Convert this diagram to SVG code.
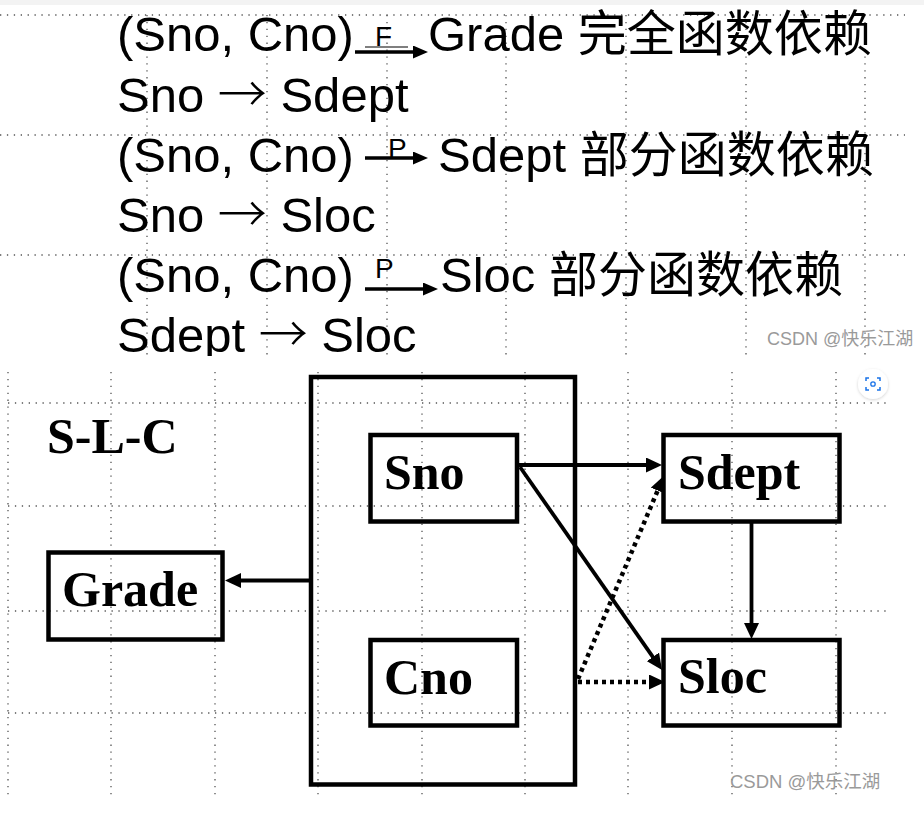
<svg xmlns="http://www.w3.org/2000/svg" width="924" height="824" viewBox="0 0 924 824">
<style>
.grid{stroke:#555;stroke-width:1.3;stroke-dasharray:1.3 5.6;fill:none}
.tx{font-family:"Liberation Sans","Noto Sans CJK SC",sans-serif;font-size:49px;fill:#000}
.ar{font-family:"Noto Sans CJK SC",sans-serif;font-weight:300}
.lbl{font-family:"Liberation Sans",sans-serif;font-size:28px;fill:#000}
.bx{fill:none;stroke:#000;stroke-width:4.5}
.nt{font-family:"Liberation Serif","Times New Roman",serif;font-weight:bold;font-size:50px;fill:#000}
.wm{font-family:"Liberation Sans","Noto Sans CJK SC",sans-serif;font-size:18px;fill:#9a9a9a}
.ln{stroke:#000;stroke-width:3.8;fill:none}
.dt{stroke:#000;stroke-width:4.5;fill:none;stroke-dasharray:4 4}
.sl{stroke:#000;stroke-width:3.6;fill:none}
</style>
<defs>
<marker id="ah" markerUnits="userSpaceOnUse" markerWidth="17" markerHeight="15" refX="6" refY="7.5" orient="auto"><path d="M0,0 L16,7.5 L0,15 z" fill="#000"/></marker>
<marker id="sa" markerUnits="userSpaceOnUse" markerWidth="15" markerHeight="13" refX="5" refY="6.5" orient="auto"><path d="M0,0 L15,6.5 L0,13 z" fill="#000"/></marker>
<clipPath id="top"><rect x="0" y="0" width="924" height="356"/></clipPath>
<filter id="sh" x="-50%" y="-50%" width="200%" height="200%"><feDropShadow dx="0" dy="1" stdDeviation="1.5" flood-color="#000" flood-opacity="0.18"/></filter>
</defs>
<rect width="924" height="824" fill="#fff"/>
<rect x="0" y="0" width="924" height="5" fill="#f3f3f3"/>

<g id="top-section" clip-path="url(#top)">
<g id="top-grid">
<path class="grid" d="M0,15 H905 M0,135 H905 M0,255 H905"/>
<path class="grid" d="M147,15 V356 M267,15 V356 M387,15 V356 M506,15 V356 M626,15 V356 M746,15 V356 M865,15 V356"/>
</g>
<text class="tx" x="117" y="51">(Sno, Cno)</text>
<line class="sl" x1="355" y1="52" x2="418" y2="52" marker-end="url(#sa)"/>
<line x1="365" y1="47" x2="408" y2="47" stroke="#000" stroke-width="1.2"/>
<text class="lbl" x="375" y="46">F</text>
<text class="tx" x="428" y="51">Grade 完全函数依赖</text>

<text class="tx" x="117" y="112">Sno <tspan class="ar">→</tspan> Sdept</text>

<text class="tx" x="117" y="172">(Sno, Cno)</text>
<line class="sl" x1="365" y1="158" x2="418" y2="158" marker-end="url(#sa)"/>
<text class="lbl" x="388" y="158">P</text>
<text class="tx" x="438" y="172">Sdept 部分函数依赖</text>

<text class="tx" x="117" y="232">Sno <tspan class="ar">→</tspan> Sloc</text>

<text class="tx" x="117" y="292">(Sno, Cno)</text>
<line class="sl" x1="365" y1="289" x2="428" y2="289" marker-end="url(#sa)"/>
<text class="lbl" x="375" y="278">P</text>
<text class="tx" x="440" y="292">Sloc 部分函数依赖</text>

<text class="tx" x="117" y="352">Sdept <tspan class="ar">→</tspan> Sloc</text>
</g>
<text class="wm" x="767" y="345">CSDN @快乐江湖</text>

<g id="bottom-grid">
<path class="grid" d="M8,403 H890 M8,506 H890 M8,611 H890 M8,713 H890"/>
<path class="grid" d="M8,372 V797 M111,372 V797 M215,372 V797 M318,372 V797 M422,372 V797 M525,372 V797 M628,372 V797 M732,372 V797 M836,372 V797"/>
</g>

<text class="nt" x="47" y="453">S-L-C</text>

<g id="SC">
<rect class="bx" x="311" y="377" width="264" height="407.5"/>
</g>
<g id="Sno">
<rect class="bx" x="370.5" y="435" width="146.5" height="86.5"/>
<text class="nt" x="384" y="489">Sno</text>
</g>
<g id="Cno">
<rect class="bx" x="370.5" y="640" width="146.5" height="85.5"/>
<text class="nt" x="384" y="694">Cno</text>
</g>
<g id="Sdept">
<rect class="bx" x="663.5" y="435" width="176" height="86.5"/>
<text class="nt" x="678" y="489">Sdept</text>
</g>
<g id="Sloc">
<rect class="bx" x="663.5" y="640" width="176" height="85.5"/>
<text class="nt" x="678" y="693">Sloc</text>
</g>
<g id="Grade">
<rect class="bx" x="48.5" y="552.5" width="174" height="87"/>
<text class="nt" x="62" y="606">Grade</text>
</g>

<g id="connectors">
<line class="ln" x1="309" y1="580.5" x2="235" y2="580.5" marker-end="url(#ah)"/>
<line class="ln" x1="517" y1="465" x2="652" y2="465" marker-end="url(#ah)"/>
<line class="ln" x1="520" y1="467" x2="656.3" y2="661.8" marker-end="url(#ah)"/>
<line class="ln" x1="751.5" y1="523" x2="751.5" y2="629" marker-end="url(#ah)"/>
<line class="dt" x1="578" y1="679" x2="660" y2="485" marker-end="url(#ah)"/>
<line class="dt" x1="578" y1="682" x2="655" y2="682" marker-end="url(#ah)"/>
</g>

<text class="wm" x="730" y="788" style="font-size:18.5px">CSDN @快乐江湖</text>

<g id="scan-button">
<circle cx="873" cy="384" r="15" fill="#fff" filter="url(#sh)"/>
<path d="M866,381 V378 H869 M877,378 H880 V381 M880,387 V390 H877 M869,390 H866 V387" fill="none" stroke="#1a73e8" stroke-width="1.5"/>
<circle cx="873" cy="384" r="2.2" fill="none" stroke="#1a73e8" stroke-width="1.3"/>
</g>
</svg>
